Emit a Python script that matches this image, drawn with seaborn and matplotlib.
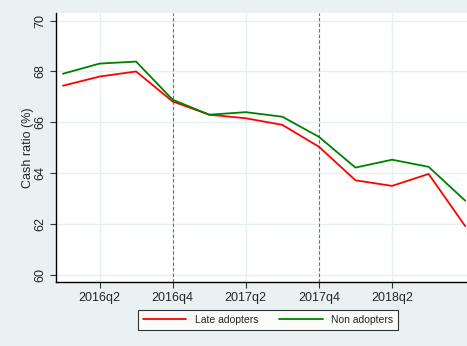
import pandas as pd
import numpy as np
import matplotlib
matplotlib.use('Agg')
import matplotlib.pyplot as plt
import seaborn as sns

# quarters 2016q1 .. 2018q4
quarters = ['2016q1', '2016q2', '2016q3', '2016q4',
            '2017q1', '2017q2', '2017q3', '2017q4',
            '2018q1', '2018q2', '2018q3', '2018q4']
late_adopters = [67.44, 67.80, 68.00, 66.82, 66.30, 66.16, 65.90, 65.04,
                 63.72, 63.50, 63.97, 61.92]
non_adopters = [67.91, 68.31, 68.39, 66.89, 66.30, 66.40, 66.22, 65.43,
                64.22, 64.53, 64.25, 62.92]
tick_labels = ['2016q2', '2016q4', '2017q2', '2017q4', '2018q2']
event_quarters = ['2016q4', '2017q4']
y_ticks = [60, 62, 64, 66, 68, 70]

df = pd.DataFrame({
    'q': list(range(len(quarters))) * 2,
    'value': late_adopters + non_adopters,
    'group': ['Late adopters'] * len(quarters) + ['Non adopters'] * len(quarters),
})

sns.set_style("white")
plt.rcParams['font.family'] = ['Liberation Sans', 'DejaVu Sans']

bg = '#EAF1F3'
fig = plt.figure(figsize=(4.67, 3.46), dpi=100, facecolor=bg)
ax = fig.add_axes([56 / 467, 64 / 346, 411 / 467, 269 / 346])
ax.set_facecolor('white')

# grid lines
for y in y_ticks:
    ax.axhline(y, color='#E6EFF2', lw=1.0, zorder=0)
for t in tick_labels:
    ax.axvline(quarters.index(t), color='#E6EFF2', lw=1.0, zorder=0)
for t in event_quarters:
    ax.axvline(quarters.index(t), color='#707070', lw=0.8, ls=(0, (3, 2)), zorder=1)

sns.lineplot(data=df, x='q', y='value', hue='group',
             palette={'Late adopters': '#FF0000', 'Non adopters': '#008000'},
             linewidth=1.3, ax=ax, legend=False, zorder=3)

ax.set_xlim(-0.19, 11.05)
ax.set_ylim(59.72, 70.3)
ax.set_xticks([quarters.index(t) for t in tick_labels])
ax.set_xticklabels(tick_labels, fontsize=9)
ax.set_yticks(y_ticks)
ax.set_yticklabels([str(v) for v in y_ticks], fontsize=9, rotation=90, va='center')
ax.tick_params(axis='both', direction='out', length=4, width=0.8, color='#333333',
               bottom=True, left=True, pad=3)
ax.set_xlabel('')
ax.set_ylabel('Cash ratio (%)', fontsize=9)
ax.yaxis.set_label_coords(-22 / 411, 0.5)

for s in ['top', 'right']:
    ax.spines[s].set_visible(False)
for s in ['left', 'bottom']:
    ax.spines[s].set_color('black')
    ax.spines[s].set_linewidth(1.0)

handles = [plt.Line2D([], [], color='#FF0000', lw=1.3),
           plt.Line2D([], [], color='#008000', lw=1.3)]
leg = fig.legend(handles, ['Late adopters', 'Non adopters'], loc='center',
                 bbox_to_anchor=(268 / 467, 1 - 320 / 346), ncol=2, fontsize=7.5,
                 frameon=True, fancybox=False, edgecolor='black', facecolor='white',
                 handlelength=4.2, columnspacing=2.0, borderpad=0.45,
                 handletextpad=0.8, borderaxespad=0)
leg.get_frame().set_linewidth(0.8)

fig.savefig('out.png', dpi=100, facecolor=bg)
